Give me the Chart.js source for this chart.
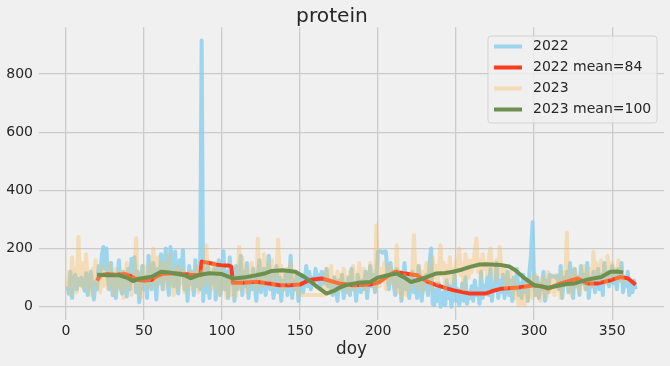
<!DOCTYPE html>
<html><head><meta charset="utf-8">
<script src="https://cdn.jsdelivr.net/npm/chart.js@4.4.1/dist/chart.umd.min.js"></script>
<style>html,body{margin:0;padding:0;background:#f0f0f0;}#wrap{width:670px;height:366px;}</style>
</head><body><div id="wrap"><canvas id="c" width="670" height="366"></canvas></div>
<script>
const chartTitle = 'protein';
const xAxisLabel = 'doy';
const seriesLabels = ['2022', '2022 mean=84', '2023', '2023 mean=100'];
const xTicks = [0, 50, 100, 150, 200, 250, 300, 350];
const yTicks = [0, 200, 400, 600, 800];

const values2022 = [
70,45,120,30,90,110,60,95,75,100,
80,55,115,40,90,120,65,25,85,60,
140,100,175,205,130,200,90,60,150,40,
110,30,85,160,70,45,120,90,35,130,
60,165,100,170,50,120,15,80,140,60,
105,30,175,90,60,150,110,25,130,80,
180,60,120,200,100,40,205,150,70,190,
90,45,160,110,195,60,100,20,140,80,
120,40,160,70,110,60,915,20,130,50,
150,30,100,80,130,25,110,160,40,90,
190,60,120,30,170,80,110,20,140,60,
90,175,40,120,70,150,30,100,60,130,
80,20,110,160,50,90,130,40,100,175,
60,110,30,80,140,50,100,20,90,60,
120,40,80,175,30,90,60,110,20,70,
110,50,90,140,70,120,60,100,80,130,
90,110,60,120,100,80,130,70,90,60,
40,100,70,20,90,60,110,30,80,50,
100,40,130,60,80,20,110,70,50,90,
60,120,30,90,140,70,110,50,100,190,
190,190,185,190,190,120,60,150,100,80,
40,130,70,110,20,90,150,60,100,30,
80,120,50,90,30,140,70,20,100,60,
110,40,150,200,10,5,60,20,80,0,
10,50,5,90,30,70,0,40,110,20,
60,5,40,80,20,100,10,50,30,70,
20,90,40,60,10,120,30,70,50,100,
40,130,20,80,60,150,30,90,50,110,
30,70,120,40,90,20,100,60,130,40,
80,30,110,50,90,20,120,180,290,70,
40,100,30,80,60,120,20,90,50,110,
105,105,105,100,105,60,140,30,100,80,
120,50,150,90,30,130,70,100,40,140,
80,110,60,150,30,100,70,120,50,90,
130,60,110,40,150,90,120,70,100,140,
80,110,60,130,90,150,50,100,70,120,
40,80,50,90,60
];

const values2023 = [
60,120,40,170,90,130,50,240,100,70,
150,60,180,90,110,40,130,80,160,70,
100,50,140,70,120,90,60,150,80,110,
40,130,70,100,60,120,30,90,150,70,
100,40,80,120,235,60,110,30,90,140,
80,120,60,150,100,200,130,70,170,90,
110,150,60,130,90,180,70,120,40,100,
140,60,110,80,130,50,100,70,90,120,
60,110,80,140,50,100,120,70,150,210,
90,130,60,110,150,70,120,40,100,130,
60,90,30,110,70,40,100,60,34,80,
205,60,170,100,140,50,120,80,150,90,
130,60,234,100,150,70,180,120,90,140,
100,160,70,130,110,230,90,140,60,120,
100,130,80,150,90,110,60,120,
40,40,40,40,40,40,40,40,40,40,40,40,40,40,40,40,40,
90,130,60,110,140,50,100,80,120,70,110,60,130,90,100,
50,120,80,140,60,110,90,150,70,100,
130,60,110,80,150,90,120,60,280,100,
70,130,90,150,60,110,140,80,120,100,
60,211,50,90,30,70,110,40,80,60,
100,130,246,90,60,140,80,120,50,110,
150,90,130,60,170,100,140,80,120,211,
110,150,60,140,100,170,80,130,90,160,
120,200,110,150,60,180,130,100,160,120,
140,190,235,120,160,100,180,130,150,110,
170,200,120,150,90,160,110,205,130,100,
140,60,110,80,120,50,90,30,70,5,
40,10,60,5,80,20,50,100,30,70,
110,40,80,20,100,60,90,30,120,50,
80,100,40,110,60,90,30,120,70,100,
255,60,110,40,90,130,70,100,50,120,
80,140,60,110,90,130,70,188,100,150,
120,90,160,110,140,80,175,120,100,150,
110,130,90,160,100,120,80
];

const mean2022Days = [20,22,26,32,38,42,46,50,55,58,62,70,80,86,87,92,96,100,104,106,107,114,122,130,137,143,150,156,164,170,175,184,195,201,206,211,216,225,231,237,243,248,254,259,264,269,274,279,290,300,305,309,317,322,328,334,341,349,355,360,365];
const mean2022Vals = [90,108,112,110,112,104,92,90,92,104,113,115,110,108,155,150,145,142,142,138,82,82,86,80,74,74,76,92,97,88,80,74,76,85,105,120,115,108,88,75,65,57,50,45,45,45,55,62,66,74,70,62,80,88,97,80,80,91,102,98,76];

const mean2023Days = [20,27,34,39,43,46,55,61,66,70,76,80,86,92,100,107,114,122,128,132,139,147,152,156,161,167,172,175,180,187,195,200,206,212,217,221,229,237,243,248,254,259,265,269,279,284,288,294,300,304,309,317,321,326,334,343,349,353,357];
const mean2023Vals = [110,108,108,100,88,95,103,120,118,114,108,98,110,115,112,97,100,108,115,123,125,120,105,90,68,45,55,65,75,82,85,100,108,114,100,85,97,114,116,120,128,137,145,146,143,138,125,97,74,70,65,74,78,80,93,102,120,121,118];

const toPts = (xs, ys) => ys.map((v, i) => ({x: xs[i], y: v}));
const dayIdx = arr => arr.map((_, i) => i + 1);

const FONT = '"DejaVu Sans", sans-serif';
const TXT = '#262626';

const bgPlugin = {
  id: 'bg',
  beforeDraw(chart) {
    const c = chart.ctx; c.save(); c.fillStyle = '#f0f0f0';
    c.fillRect(0, 0, chart.width, chart.height); c.restore();
  }
};

const legendPlugin = {
  id: 'customLegend',
  afterDraw(chart) {
    const c = chart.ctx;
    const x0 = 488, y0 = 36, w = 169, h = 87, r = 3;
    c.save();
    c.beginPath();
    c.moveTo(x0 + r, y0); c.lineTo(x0 + w - r, y0); c.quadraticCurveTo(x0 + w, y0, x0 + w, y0 + r);
    c.lineTo(x0 + w, y0 + h - r); c.quadraticCurveTo(x0 + w, y0 + h, x0 + w - r, y0 + h);
    c.lineTo(x0 + r, y0 + h); c.quadraticCurveTo(x0, y0 + h, x0, y0 + h - r);
    c.lineTo(x0, y0 + r); c.quadraticCurveTo(x0, y0, x0 + r, y0);
    c.closePath();
    c.fillStyle = 'rgba(240,240,240,0.8)'; c.fill();
    c.strokeStyle = 'rgba(204,204,204,0.8)'; c.lineWidth = 1; c.stroke();
    chart.data.datasets.forEach((ds, i) => {
      const y = 46.5 + i * 21;
      c.beginPath(); c.moveTo(494, y); c.lineTo(522, y);
      c.strokeStyle = ds.borderColor; c.lineWidth = 4; c.lineCap = 'butt'; c.stroke();
      c.fillStyle = TXT; c.font = '14px ' + FONT; c.textBaseline = 'middle'; c.textAlign = 'left';
      c.fillText(ds.label, 533, y);
    });
    c.restore();
  }
};

const lineBase = {fill: false, pointRadius: 0, borderWidth: 4, tension: 0, borderJoinStyle: 'round', borderCapStyle: 'butt'};

new Chart(document.getElementById('c'), {
  type: 'line',
  data: {
    datasets: [
      Object.assign({label: seriesLabels[0], data: toPts(dayIdx(values2022), values2022), borderColor: 'rgba(135,206,235,0.8)', order: 4}, lineBase),
      Object.assign({label: seriesLabels[1], data: toPts(mean2022Days, mean2022Vals), borderColor: '#fe3b1f', order: 3}, lineBase),
      Object.assign({label: seriesLabels[2], data: toPts(dayIdx(values2023), values2023), borderColor: 'rgba(248,190,98,0.4)', order: 2}, lineBase),
      Object.assign({label: seriesLabels[3], data: toPts(mean2023Days, mean2023Vals), borderColor: '#6d904f', order: 1}, lineBase)
    ]
  },
  options: {
    responsive: false, animation: false, devicePixelRatio: 1,
    layout: {padding: {left: 0, right: 6, top: 0, bottom: 0}},
    plugins: {
      legend: {display: false}, tooltip: {enabled: false},
      title: {display: true, text: chartTitle, color: TXT, font: {family: FONT, size: 20.2, weight: 'normal'}, padding: {top: 5, bottom: -2}}
    },
    scales: {
      x: {
        type: 'linear', min: -17.2, max: 383.2,
        afterBuildTicks: s => { s.ticks = xTicks.map(v => ({value: v})); },
        afterFit: s => { s.height = 46; },
        grid: {color: '#cbcbcb', lineWidth: 1.3, drawTicks: false},
        border: {display: false},
        ticks: {color: TXT, font: {family: FONT, size: 14}, padding: 3, maxRotation: 0, autoSkip: false},
        title: {display: true, text: xAxisLabel, color: TXT, font: {family: FONT, size: 16.8}, padding: {top: 0, bottom: 6}}
      },
      y: {
        type: 'linear', min: -45.75, max: 960.75,
        afterBuildTicks: s => { s.ticks = yTicks.map(v => ({value: v})); },
        afterFit: s => { s.width = 39; },
        grid: {color: '#cbcbcb', lineWidth: 1.3, drawTicks: false},
        border: {display: false},
        ticks: {color: TXT, font: {family: FONT, size: 14}, padding: 6}
      }
    }
  },
  plugins: [bgPlugin, legendPlugin]
});
</script></body></html>
